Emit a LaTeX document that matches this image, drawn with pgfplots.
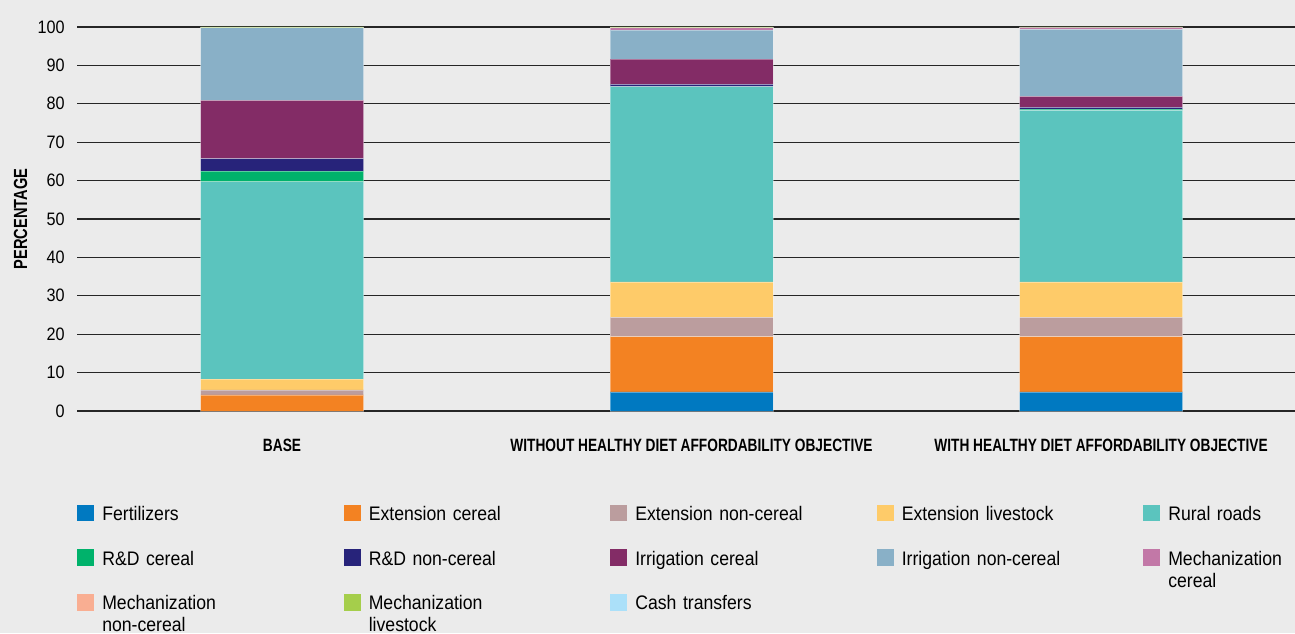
\documentclass[border=0pt]{standalone}
\usepackage{fontspec}
\setmainfont{Liberation Sans}[FakeStretch=0.9]
\newfontfamily\condbold{Liberation Sans}[FakeStretch=0.77]
\usepackage{pgfplots}
\pgfplotsset{compat=1.18}
\usepackage{pgfplotstable}
\definecolor{bg}{HTML}{EBEBEB}
\definecolor{cFert}{HTML}{0079C1}
\definecolor{cExtC}{HTML}{F38222}
\definecolor{cExtNC}{HTML}{BB9D9E}
\definecolor{cExtL}{HTML}{FECB69}
\definecolor{cRoads}{HTML}{5BC4BE}
\definecolor{cRDc}{HTML}{00B26B}
\definecolor{cRDnc}{HTML}{27237A}
\definecolor{cIrrC}{HTML}{832C66}
\definecolor{cIrrNC}{HTML}{89B0C7}
\definecolor{cMechC}{HTML}{C278A7}
\definecolor{cMechNC}{HTML}{F9AE92}
\definecolor{cMechL}{HTML}{A5CE4B}
\definecolor{cCash}{HTML}{ABE0F9}
\pgfplotstableread{
x Fert ExtC ExtNC ExtL Roads RDc RDnc IrrC IrrNC MechC MechNC MechL Cash
0 0   4.2  1.3 2.8 51.4 2.8 3.2  15.2 18.9  0    0 0.2  0
1 5.0 14.4 5.0 9.2 50.9 0   0.55 6.6  7.55  0.6  0 0.2  0
2 5.0 14.4 5.0 9.2 44.7 0.3 0.45 2.9  17.45 0.45 0 0.15 0
}\data
\begin{document}
\begin{tikzpicture}
\useasboundingbox (0pt,0pt) rectangle (647.5pt,316.5pt);
\fill[bg] (0pt,0pt) rectangle (647.5pt,316.5pt);
\begin{axis}[
  at={(38.5pt,111pt)}, anchor=south west,
  scale only axis, width=609pt, height=192pt,
  ybar stacked, bar width=81.5pt,
  xmin=-0.5006, xmax=2.4737, ymin=0, ymax=100,
  xtick={0,1,2},
  xticklabels={BASE, WITHOUT HEALTHY DIET AFFORDABILITY OBJECTIVE, WITH HEALTHY DIET AFFORDABILITY OBJECTIVE},
  ytick={0,10,...,100},
  ymajorgrids, grid style={black!85, line width=0.6pt},
  axis line style={draw=none},
  major tick length=0pt,
  /pgf/number format/assume math mode=true,
  yticklabel style={font=\fontsize{9}{10}\selectfont, anchor=east, inner sep=0pt, xshift=-6pt},
  xticklabel style={font=\condbold\bfseries\fontsize{8.9}{10}\selectfont, anchor=base, inner sep=0pt, yshift=-20pt},
  every axis plot post/.append style={draw=white, draw opacity=0.35, line width=0.3pt,
    legend image code/.code={\fill[##1, draw=none] (0pt,-0.5pt) rectangle (8.5pt,7.85pt);}},
  legend columns=5,
  legend cell align=left,
  legend style={at={(0,-0.244)}, anchor=north west, draw=none, fill=none,
    inner sep=0pt, outer sep=0pt, row sep=12.5pt,
    font=\fontsize{9.8}{11}\selectfont,
    cells={anchor=base west},
    /tikz/every odd column/.style={column sep=4.15pt},
    nodes={inner sep=0pt, text width=120.6pt, align=left, text height=7pt, text depth=2pt}},
]
\addplot[fill=cFert] table[x=x,y=Fert]{\data};
\addplot[fill=cExtC] table[x=x,y=ExtC]{\data};
\addplot[fill=cExtNC] table[x=x,y=ExtNC]{\data};
\addplot[fill=cExtL] table[x=x,y=ExtL]{\data};
\addplot[fill=cRoads] table[x=x,y=Roads]{\data};
\addplot[fill=cRDc] table[x=x,y=RDc]{\data};
\addplot[fill=cRDnc] table[x=x,y=RDnc]{\data};
\addplot[fill=cIrrC] table[x=x,y=IrrC]{\data};
\addplot[fill=cIrrNC] table[x=x,y=IrrNC]{\data};
\addplot[fill=cMechC] table[x=x,y=MechC]{\data};
\addplot[fill=cMechNC] table[x=x,y=MechNC]{\data};
\addplot[fill=cMechL] table[x=x,y=MechL]{\data};
\addplot[fill=cCash] table[x=x,y=Cash]{\data};
\legend{Fertilizers, Extension cereal, Extension non-cereal, Extension livestock, Rural roads,
  R\&D cereal, R\&D non-cereal, Irrigation cereal, Irrigation non-cereal, Mechanization\\cereal,
  Mechanization\\non-cereal, Mechanization\\livestock, Cash transfers}
\end{axis}
\node[rotate=90, font=\condbold\bfseries\fontsize{9.5}{10}\selectfont] at (10.25pt,207pt) {PERCENTAGE};
\end{tikzpicture}
\end{document}
